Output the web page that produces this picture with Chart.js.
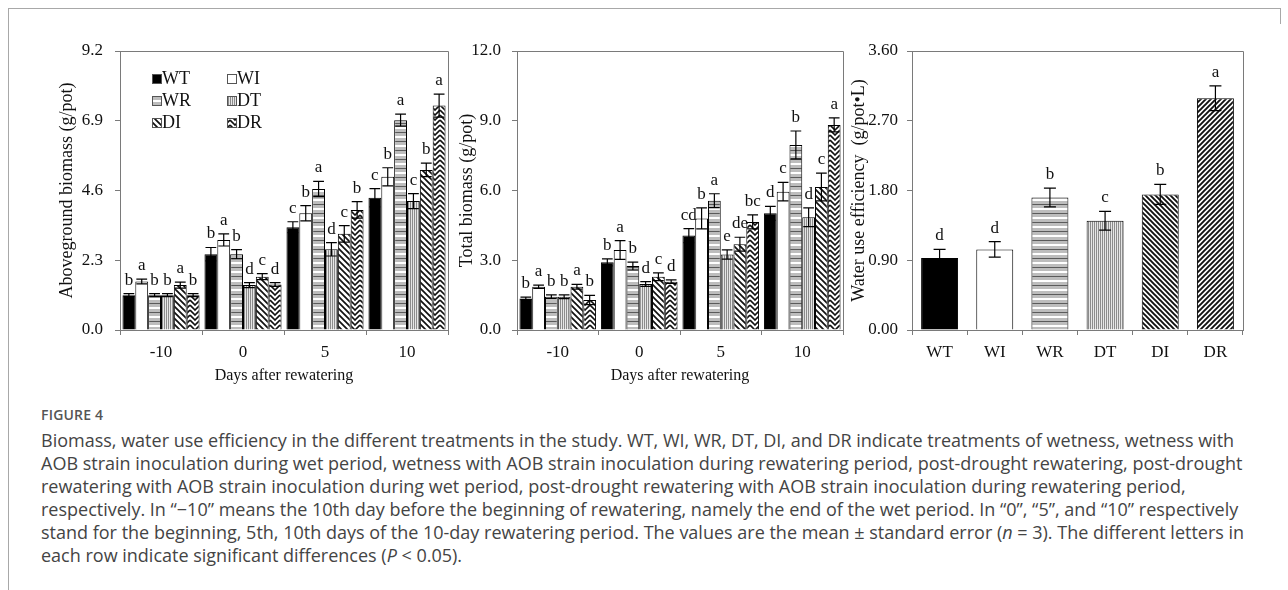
<!DOCTYPE html>
<html>
<head>
<meta charset="utf-8">
<script src="https://cdn.jsdelivr.net/npm/chart.js@4.4.1/dist/chart.umd.min.js"></script>
<style>
  body { margin: 0; width: 1288px; height: 590px; background: #fff; position: relative; overflow: hidden; }
  #frame { position: absolute; left: 8px; top: 8px; width: 1272px; height: 600px; border-top: 1px solid #a8a8a8; border-left: 1px solid #a8a8a8; }
  #frameR { position: absolute; left: 1280px; top: 8px; width: 0; height: 16px; border-left: 1px solid #a8a8a8; }
  canvas { position: absolute; top: 0; }
  #c1 { left: 0; }
  #c2 { left: 440px; }
  #c3 { left: 840px; }
  #figlabel { position: absolute; left: 41px; top: 405px; font: 600 14px "Open Sans", sans-serif; color: #555; letter-spacing: 0.2px; }
  #caption { position: absolute; left: 41px; top: 429px; font: 18px/23px "Open Sans", sans-serif; color: #444; }
  #caption div { white-space: nowrap; }
</style>
</head>
<body>
<div id="frame"></div>
<div id="frameR"></div>
<canvas id="c1" width="460" height="400"></canvas>
<canvas id="c2" width="415" height="400"></canvas>
<canvas id="c3" width="448" height="400"></canvas>
<div id="figlabel">FIGURE 4</div>
<div id="caption">
  <div>Biomass, water use efficiency in the different treatments in the study. WT, WI, WR, DT, DI, and DR indicate treatments of wetness, wetness with</div>
  <div>AOB strain inoculation during wet period, wetness with AOB strain inoculation during rewatering period, post-drought rewatering, post-drought</div>
  <div>rewatering with AOB strain inoculation during wet period, post-drought rewatering with AOB strain inoculation during rewatering period,</div>
  <div>respectively. In “−10” means the 10th day before the beginning of rewatering, namely the end of the wet period. In “0”, “5”, and “10” respectively</div>
  <div>stand for the beginning, 5th, 10th days of the 10-day rewatering period. The values are the mean ± standard error (<i>n</i> = 3). The different letters in</div>
  <div>each row indicate significant differences (<i>P</i> &lt; 0.05).</div>
</div>
<script>
// categories
const days = ['-10', '0', '5', '10'];
const treatments = ['WT', 'WI', 'WR', 'DT', 'DI', 'DR'];

// Aboveground biomass (g/pot), per treatment over days
const agWT = [1.15, 2.50, 3.39, 4.36];
const agWI = [1.60, 2.97, 3.85, 5.05];
const agWR = [1.15, 2.50, 4.65, 6.92];
const agDT = [1.15, 1.48, 2.66, 4.25];
const agDI = [1.48, 1.76, 3.17, 5.28];
const agDR = [1.15, 1.50, 3.96, 7.40];
const agErrWT = [0.05, 0.22, 0.18, 0.30];
const agErrWI = [0.08, 0.20, 0.25, 0.30];
const agErrWR = [0.05, 0.15, 0.25, 0.20];
const agErrDT = [0.05, 0.08, 0.22, 0.25];
const agErrDI = [0.10, 0.10, 0.27, 0.22];
const agErrDR = [0.05, 0.06, 0.27, 0.38];
const agLetWT = ['b', 'b', 'c', 'c'];
const agLetWI = ['a', 'a', 'b', 'b'];
const agLetWR = ['b', 'b', 'a', 'a'];
const agLetDT = ['b', 'd', 'd', 'c'];
const agLetDI = ['a', 'c', 'c', 'b'];
const agLetDR = ['b', 'd', 'b', 'a'];

// Total biomass (g/pot)
const tbWT = [1.36, 2.91, 4.06, 5.02];
const tbWI = [1.86, 3.44, 4.80, 5.95];
const tbWR = [1.43, 2.75, 5.56, 7.96];
const tbDT = [1.43, 1.98, 3.25, 4.85];
const tbDI = [1.86, 2.29, 3.69, 6.15];
const tbDR = [1.29, 2.08, 4.65, 8.82];
const tbErrWT = [0.05, 0.15, 0.30, 0.30];
const tbErrWI = [0.07, 0.40, 0.45, 0.40];
const tbErrWR = [0.08, 0.17, 0.30, 0.60];
const tbErrDT = [0.08, 0.10, 0.20, 0.40];
const tbErrDI = [0.10, 0.17, 0.30, 0.60];
const tbErrDR = [0.20, 0.08, 0.30, 0.30];
const tbLetWT = ['b', 'b', 'cd', 'd'];
const tbLetWI = ['a', 'a', 'b', 'c'];
const tbLetWR = ['b', 'b', 'a', 'b'];
const tbLetDT = ['b', 'd', 'e', 'd'];
const tbLetDI = ['a', 'c', 'de', 'c'];
const tbLetDR = ['b', 'd', 'bc', 'a'];

// Water use efficiency (g/pot•L)
const wue = [0.93, 1.04, 1.71, 1.41, 1.75, 2.99];
const wueErr = [0.11, 0.10, 0.12, 0.12, 0.13, 0.16];
const wueLet = ['d', 'd', 'b', 'c', 'b', 'a'];

// y tick settings
const agTicks = { max: 9.2, step: 2.3, dec: 1 };
const tbTicks = { max: 12.0, step: 3.0, dec: 1 };
const wueTicks = { max: 3.6, step: 0.9, dec: 2 };

const SERIF = '"Liberation Serif", "Times New Roman", serif';
const AXIS_GREY = '#7a7a7a';

// fill patterns
function makePattern(kind) {
    const c = document.createElement('canvas');
    const g = c.getContext('2d');
    if (kind === 'hlines') {
        c.width = 8; c.height = 9;
        g.fillStyle = '#bdbdbd'; g.fillRect(0, 0, 8, 9);
        g.fillStyle = '#ffffff'; g.fillRect(0, 1, 8, 2);
        g.fillStyle = '#5a5a5a'; g.fillRect(0, 6, 8, 1);
    } else if (kind === 'vlines') {
        c.width = 4; c.height = 4;
        g.fillStyle = '#e6e6e6'; g.fillRect(0, 0, 4, 4);
        g.fillStyle = '#8c8c8c'; g.fillRect(0, 0, 1, 4); g.fillRect(2, 0, 1, 4);
    } else if (kind === 'back' || kind === 'fwd' || kind === 'backDense' || kind === 'fwdDense') {
        const s = kind.indexOf('Dense') > 0 ? 5 : 6;
        c.width = s; c.height = s;
        g.fillStyle = '#fff'; g.fillRect(0, 0, s, s);
        g.strokeStyle = '#111'; g.lineWidth = s === 5 ? 1.9 : 1.7;
        g.beginPath();
        if (kind.startsWith('back')) {
            g.moveTo(-1, -1); g.lineTo(s + 1, s + 1);
            g.moveTo(-1, s - 1); g.lineTo(1, s + 1);
            g.moveTo(s - 1, -1); g.lineTo(s + 1, 1);
        } else {
            g.moveTo(-1, s + 1); g.lineTo(s + 1, -1);
            g.moveTo(-1, 1); g.lineTo(1, -1);
            g.moveTo(s - 1, s + 1); g.lineTo(s + 1, s - 1);
        }
        g.stroke();
    } else if (kind === 'chevron') {
        c.width = 10; c.height = 5;
        g.fillStyle = '#fff'; g.fillRect(0, 0, 10, 5);
        g.strokeStyle = '#111'; g.lineWidth = 1.6;
        g.beginPath();
        for (let k = -1; k <= 1; k++) {
            g.moveTo(0, k * 5); g.lineTo(5, k * 5 + 5); g.lineTo(10, k * 5);
        }
        g.stroke();
    }
    return document.getElementById('c1').getContext('2d').createPattern(c, 'repeat');
}

const fillWT = '#000000';
const fillWI = '#ffffff';
const fillWR = makePattern('hlines');
const fillDT = makePattern('vlines');
const fillDI = makePattern('back');
const fillDR = makePattern('chevron');
const fillDI3 = makePattern('backDense');
const fillDR3 = makePattern('fwdDense');

// error bars + significance letters
const errorBars = {
    id: 'errorBars',
    afterDatasetsDraw(chart) {
        const ctx = chart.ctx;
        const y = chart.scales.y;
        chart.data.datasets.forEach((ds, i) => {
            const meta = chart.getDatasetMeta(i);
            meta.data.forEach((bar, j) => {
                const v = ds.data[j], e = ds.errors[j];
                const top = y.getPixelForValue(v + e);
                const bot = y.getPixelForValue(v - e);
                const half = Math.min(6, bar.width * 0.42);
                ctx.save();
                ctx.strokeStyle = '#000';
                ctx.lineWidth = 1.2;
                ctx.beginPath();
                ctx.moveTo(bar.x, top); ctx.lineTo(bar.x, bot);
                ctx.moveTo(bar.x - half, top); ctx.lineTo(bar.x + half, top);
                ctx.moveTo(bar.x - half, bot); ctx.lineTo(bar.x + half, bot);
                ctx.stroke();
                ctx.fillStyle = '#111';
                ctx.font = '17px ' + SERIF;
                ctx.textAlign = 'center';
                ctx.textBaseline = 'bottom';
                ctx.fillText(ds.letters[j], bar.x, top - 5);
                ctx.restore();
            });
        });
    }
};

// frame round the plot area
const plotBox = {
    id: 'plotBox',
    afterDraw(chart) {
        const a = chart.chartArea, ctx = chart.ctx;
        ctx.save();
        ctx.strokeStyle = AXIS_GREY;
        ctx.lineWidth = 1;
        ctx.beginPath();
        ctx.moveTo(a.left, a.top + 0.5); ctx.lineTo(a.right + 0.5, a.top + 0.5); ctx.lineTo(a.right + 0.5, a.bottom);
        ctx.stroke();
        ctx.restore();
    }
};

// two-column legend in the first panel
const boxLegend = {
    id: 'boxLegend',
    afterDraw(chart) {
        const o = chart.options.plugins.boxLegend;
        if (!o) return;
        const ctx = chart.ctx;
        ctx.save();
        ctx.font = '18px ' + SERIF;
        ctx.textBaseline = 'middle';
        chart.data.datasets.forEach((ds, i) => {
            const col = i % 2, row = Math.floor(i / 2);
            const x = o.x + col * o.colGap, y = o.y + row * o.rowGap;
            ctx.fillStyle = ds.backgroundColor;
            ctx.fillRect(x, y - 4, 9, 9);
            ctx.strokeStyle = '#555';
            ctx.lineWidth = 1;
            ctx.strokeRect(x + 0.5, y - 3.5, 9, 9);
            ctx.fillStyle = '#111';
            ctx.fillText(ds.label, x + 10, y + 1);
        });
        ctx.restore();
    }
};

function panelOptions(t, yTitle, yWidth, rightPad, titlePad, tickPad, xTitle) {
    return {
        responsive: false,
        animation: false,
        layout: { padding: { top: 51, right: rightPad, left: 0, bottom: 0 } },
        plugins: { legend: { display: false }, tooltip: { enabled: false } },
        scales: {
            x: {
                grid: { display: true, drawOnChartArea: false, drawTicks: true, tickLength: 5, color: AXIS_GREY, offset: true },
                border: { color: AXIS_GREY },
                ticks: { color: '#111', font: { family: SERIF, size: 17 }, padding: 7, maxRotation: 0 },
                title: { display: !!xTitle, text: xTitle, color: '#111', font: { family: SERIF, size: 16 }, padding: { bottom: 15 } },
                afterFit(s) { s.height = 70; }
            },
            y: {
                min: 0, max: t.max,
                grid: { display: true, drawOnChartArea: false, drawTicks: true, tickLength: 5, color: AXIS_GREY },
                border: { color: AXIS_GREY },
                ticks: { stepSize: t.step, color: '#111', font: { family: SERIF, size: 17 }, padding: tickPad,
                         callback: v => v.toFixed(t.dec) },
                title: { display: true, text: yTitle, color: '#111', font: { family: SERIF, size: 18 }, padding: { top: titlePad, bottom: 0 } },
                afterFit(s) { s.width = yWidth; }
            }
        }
    };
}

function groupSets(vals, errs, lets) {
    const fills = [fillWT, fillWI, fillWR, fillDT, fillDI, fillDR];
    return treatments.map((name, i) => ({
        label: name,
        data: vals[i],
        errors: errs[i],
        letters: lets[i],
        backgroundColor: fills[i],
        borderColor: '#000',
        borderWidth: 1,
        categoryPercentage: 0.94,
        barPercentage: 1.0
    }));
}

const opts1 = panelOptions(agTicks, 'Aboveground biomass (g/pot)', 120, 12, 56, 12, 'Days after rewatering');
opts1.plugins.boxLegend = { x: 152, y: 78, colGap: 75, rowGap: 22 };
new Chart(document.getElementById('c1'), {
    type: 'bar',
    data: {
        labels: days,
        datasets: groupSets([agWT, agWI, agWR, agDT, agDI, agDR],
                            [agErrWT, agErrWI, agErrWR, agErrDT, agErrDI, agErrDR],
                            [agLetWT, agLetWI, agLetWR, agLetDT, agLetDI, agLetDR])
    },
    options: opts1,
    plugins: [errorBars, plotBox, boxLegend]
});

new Chart(document.getElementById('c2'), {
    type: 'bar',
    data: {
        labels: days,
        datasets: groupSets([tbWT, tbWI, tbWR, tbDT, tbDI, tbDR],
                            [tbErrWT, tbErrWI, tbErrWR, tbErrDT, tbErrDI, tbErrDR],
                            [tbLetWT, tbLetWI, tbLetWR, tbLetDT, tbLetDI, tbLetDR])
    },
    options: panelOptions(tbTicks, 'Total biomass (g/pot)', 77, 12, 16, 11, 'Days after rewatering'),
    plugins: [errorBars, plotBox]
});

new Chart(document.getElementById('c3'), {
    type: 'bar',
    data: {
        labels: treatments,
        datasets: [{
            label: 'WUE',
            data: wue,
            errors: wueErr,
            letters: wueLet,
            backgroundColor: [fillWT, fillWI, fillWR, fillDT, fillDI3, fillDR3],
            borderColor: '#000',
            borderWidth: 1,
            categoryPercentage: 0.67,
            barPercentage: 1.0
        }]
    },
    options: panelOptions(wueTicks, 'Water use efficiency  (g/pot•L)', 72, 45, 8, 9, ''),
    plugins: [errorBars, plotBox]
});
</script>
</body>
</html>
